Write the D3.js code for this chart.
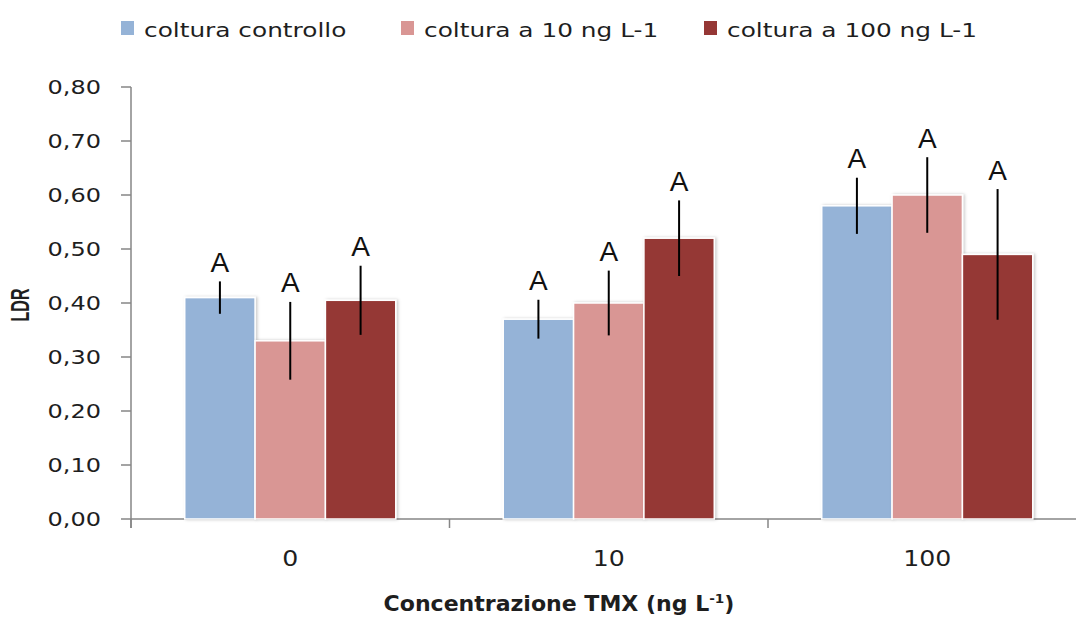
<!DOCTYPE html>
<html>
<head>
<meta charset="utf-8">
<script src="https://cdn.jsdelivr.net/npm/d3@7"></script>
<style>
  html, body { margin: 0; padding: 0; background: #ffffff; }
  svg { display: block; }
</style>
</head>
<body>
<svg id="chart" width="1076" height="617"></svg>
<script>
// Categories on the x axis (TMX concentration, ng L-1)
const categories = ["0", "10", "100"];

// Series names (legend)
const seriesNames = ["coltura controllo", "coltura a 10 ng L-1", "coltura a 100 ng L-1"];

// Mean LDR per category, one array per series
const controlValues = [0.41, 0.37, 0.58];
const tenNgValues = [0.33, 0.40, 0.60];
const hundredNgValues = [0.405, 0.52, 0.49];

// Error bar half-lengths per category
const controlErrors = [0.030, 0.036, 0.052];
const tenNgErrors = [0.072, 0.060, 0.070];
const hundredNgErrors = [0.064, 0.070, 0.121];

// Significance letters above each bar
const controlLetters = ["A", "A", "A"];
const tenNgLetters = ["A", "A", "A"];
const hundredNgLetters = ["A", "A", "A"];

// Y axis tick values
const yTicks = [0, 0.1, 0.2, 0.3, 0.4, 0.5, 0.6, 0.7, 0.8];

const seriesColors = ["#95b3d7", "#d99694", "#953735"];

const series = [
  { name: seriesNames[0], values: controlValues, errors: controlErrors, letters: controlLetters, color: seriesColors[0] },
  { name: seriesNames[1], values: tenNgValues, errors: tenNgErrors, letters: tenNgLetters, color: seriesColors[1] },
  { name: seriesNames[2], values: hundredNgValues, errors: hundredNgErrors, letters: hundredNgLetters, color: seriesColors[2] }
];

const svg = d3.select("#chart");
const textColor = "#1e1e1e";
const axisColor = "#868686";
const FONT = "'DejaVu Sans', sans-serif";

// Plot area
const plot = { left: 131, right: 1086.5, top: 87, bottom: 519 };

const y = d3.scaleLinear().domain([0, 0.8]).range([plot.bottom, plot.top]);
const x0 = d3.scaleBand().domain(categories).range([plot.left, plot.right]).padding(0);
const x1 = d3.scaleBand().domain(d3.range(series.length))
  .range([0, x0.bandwidth()]).paddingInner(0).paddingOuter(0.764);

const itLocale = d3.formatLocale({ decimal: ",", thousands: ".", grouping: [3], currency: ["€", ""] });
const fmt = itLocale.format(".2f");

// Soft shadow behind bars
const defs = svg.append("defs");
const shadow = defs.append("filter").attr("id", "barShadow")
  .attr("x", "-10%").attr("y", "-5%").attr("width", "130%").attr("height", "115%");
shadow.append("feDropShadow").attr("dx", 1.5).attr("dy", 0).attr("stdDeviation", 1.6)
  .attr("flood-color", "#000").attr("flood-opacity", 0.22);

// ---- Y axis ----
const yAxisG = svg.append("g").attr("transform", `translate(${plot.left},0)`);
yAxisG.append("line")
  .attr("x1", 0).attr("x2", 0).attr("y1", y(0.8)).attr("y2", plot.bottom + 9)
  .attr("stroke", axisColor).attr("stroke-width", 1.5);
yAxisG.selectAll("line.tick").data(yTicks).join("line")
  .attr("class", "tick")
  .attr("x1", -10).attr("x2", 0)
  .attr("y1", d => y(d)).attr("y2", d => y(d))
  .attr("stroke", axisColor).attr("stroke-width", 1.5);
svg.append("g").selectAll("text").data(yTicks).join("text")
  .attr("transform", d => `translate(101,${y(d) + 7}) scale(1.2,1)`)
  .attr("text-anchor", "end")
  .attr("font-family", FONT).attr("font-size", 20)
  .attr("fill", textColor)
  .text(d => fmt(d));

// Y axis title
svg.append("text")
  .attr("transform", `translate(29,${(plot.top + plot.bottom) / 2 + 2}) scale(1.6,1) rotate(-90)`)
  .attr("text-anchor", "middle")
  .attr("font-family", "'Liberation Sans', Arial, sans-serif")
  .attr("font-weight", "bold").attr("font-size", 16)
  .attr("fill", textColor)
  .text("LDR");

// ---- X axis ----
svg.append("line")
  .attr("x1", plot.left).attr("x2", plot.right)
  .attr("y1", plot.bottom).attr("y2", plot.bottom)
  .attr("stroke", axisColor).attr("stroke-width", 1.5);
const boundaries = categories.map(c => x0(c)).concat([plot.right]);
svg.append("g").selectAll("line").data(boundaries).join("line")
  .attr("x1", d => d).attr("x2", d => d)
  .attr("y1", plot.bottom).attr("y2", plot.bottom + 9)
  .attr("stroke", axisColor).attr("stroke-width", 1.5);
svg.append("g").selectAll("text").data(categories).join("text")
  .attr("transform", c => `translate(${x0(c) + x0.bandwidth() / 2},566) scale(1.2,1)`)
  .attr("text-anchor", "middle")
  .attr("font-family", FONT).attr("font-size", 21)
  .attr("fill", textColor)
  .text(c => c);

// X axis title with superscript
const xTitle = svg.append("text")
  .attr("transform", "translate(559,611) scale(1.05,1)")
  .attr("text-anchor", "middle")
  .attr("font-family", FONT).attr("font-weight", "bold").attr("font-size", 21)
  .attr("fill", textColor);
xTitle.append("tspan").text("Concentrazione TMX (ng L");
xTitle.append("tspan").attr("dy", -8).attr("font-size", 13).text("-1");
xTitle.append("tspan").attr("dy", 8).text(")");

// ---- Bars ----
const groups = svg.append("g").selectAll("g.cat").data(categories).join("g")
  .attr("class", "cat")
  .attr("transform", c => `translate(${x0(c)},0)`);

groups.each(function(c, ci) {
  const g = d3.select(this);
  series.forEach((s, si) => {
    const v = s.values[ci];
    g.append("rect")
      .attr("x", x1(si))
      .attr("y", y(v))
      .attr("width", x1.bandwidth())
      .attr("height", y(0) - y(v))
      .attr("fill", s.color)
      .attr("stroke", "#ffffff")
      .attr("stroke-width", 1.5)
      .attr("filter", "url(#barShadow)");
  });
  series.forEach((s, si) => {
    const v = s.values[ci];
    const e = s.errors[ci];
    const cx = x1(si) + x1.bandwidth() / 2;
    g.append("line")
      .attr("x1", cx).attr("x2", cx)
      .attr("y1", y(v + e)).attr("y2", y(v - e))
      .attr("stroke", "#000").attr("stroke-width", 2);
    g.append("text")
      .attr("x", cx).attr("y", y(v + e) - 9.5)
      .attr("text-anchor", "middle")
      .attr("font-family", "'Liberation Sans', Arial, sans-serif")
      .attr("font-size", 28)
      .attr("fill", "#111")
      .text(s.letters[ci]);
  });
});

// ---- Legend ----
const legendX = [121, 401, 704];
const legend = svg.append("g").selectAll("g").data(series).join("g")
  .attr("transform", (d, i) => `translate(${legendX[i]},0)`);
legend.append("rect")
  .attr("x", 0).attr("y", 21).attr("width", 13).attr("height", 14)
  .attr("fill", d => d.color);
legend.append("text")
  .attr("transform", "translate(23,37) scale(1.24,1)")
  .attr("font-family", FONT).attr("font-size", 20)
  .attr("fill", textColor)
  .text(d => d.name);
</script>
</body>
</html>
